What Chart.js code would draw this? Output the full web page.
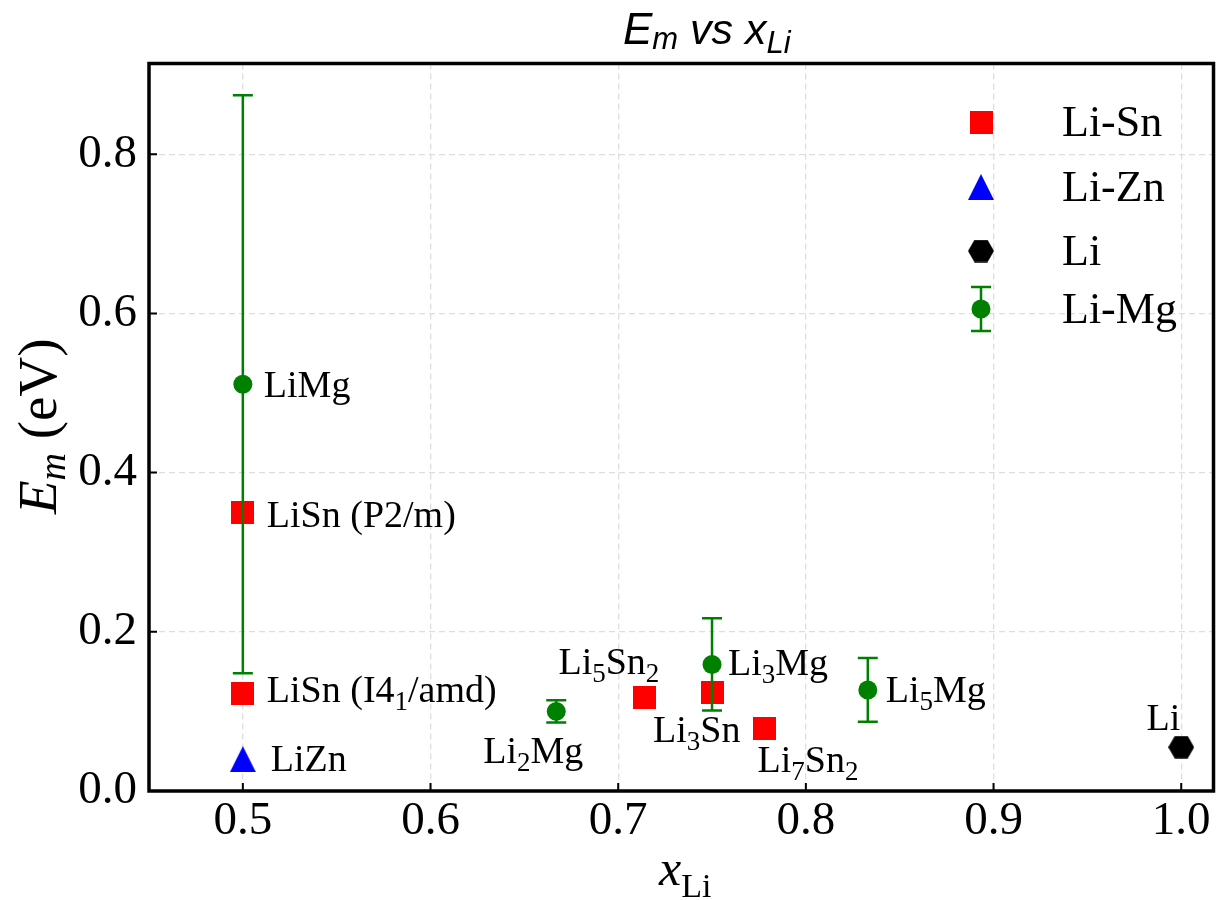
<!DOCTYPE html>
<html>
<head>
<meta charset="utf-8">
<script src="https://cdn.jsdelivr.net/npm/chart.js@4.4.0/dist/chart.umd.min.js"></script>
<style>
  html, body { margin: 0; padding: 0; background: #fff; }
  #wrap { width: 1216px; height: 900px; }
</style>
</head>
<body>
<div id="wrap"><canvas id="emChart" width="1216" height="900"></canvas></div>
<script>
// Migration energy E_m (eV) against Li fraction, per alloy family
const snX = [0.5, 0.5, 0.714, 0.75, 0.778];
const snY = [0.350, 0.122, 0.118, 0.124, 0.079];
const snNames = ["LiSn (P2/m)", "LiSn (I4_{1}/amd)", "Li_{5}Sn_{2}", "Li_{3}Sn", "Li_{7}Sn_{2}"];

const znX = [0.5];
const znY = [0.040];
const znNames = ["LiZn"];

const liX = [1.0];
const liY = [0.055];
const liNames = ["Li"];

const mgX = [0.5, 0.667, 0.75, 0.833];
const mgY = [0.511, 0.100, 0.159, 0.127];
const mgErr = [0.363, 0.014, 0.058, 0.040];
const mgNames = ["LiMg", "Li_{2}Mg", "Li_{3}Mg", "Li_{5}Mg"];

const xTicks = [0.5, 0.6, 0.7, 0.8, 0.9, 1.0];
const yTicks = [0.0, 0.2, 0.4, 0.6, 0.8];

// where each compound name sits relative to its marker: [dx, dy, align]
const labelPlacement = {
  "LiMg": [21, 13, "left"],
  "LiSn (P2/m)": [24, 15, "left"],
  "LiSn (I4_{1}/amd)": [24, 8, "left"],
  "LiZn": [28, 12, "left"],
  "Li_{2}Mg": [27, 52, "right"],
  "Li_{5}Sn_{2}": [-86, -23, "left"],
  "Li_{3}Sn": [-59, 50, "left"],
  "Li_{3}Mg": [16, 11, "left"],
  "Li_{7}Sn_{2}": [-7, 44, "left"],
  "Li_{5}Mg": [18, 12, "left"],
  "Li": [-1, -17, "right"]
};

const SERIF = "'Liberation Serif', 'Times New Roman', serif";
const SANS = "'Liberation Sans', Arial, sans-serif";
const GREEN = "#008000";

// small canvases used as point styles
function markerCanvas(w, h, color, shape) {
  const c = document.createElement("canvas");
  c.width = w; c.height = h;
  const g = c.getContext("2d");
  g.fillStyle = color;
  g.beginPath();
  if (shape === "square") {
    g.rect(0, 0, w, h);
  } else if (shape === "triangle") {
    g.moveTo(w / 2, 0); g.lineTo(w, h); g.lineTo(0, h);
  } else if (shape === "hexagon") {
    const r = w / 2;
    for (let k = 0; k < 6; k++) {
      const a = k * Math.PI / 3;
      const px = w / 2 + r * Math.cos(a), py = h / 2 + r * Math.sin(a);
      if (k === 0) g.moveTo(px, py); else g.lineTo(px, py);
    }
  }
  g.closePath();
  g.fill();
  return c;
}
const squareImg = markerCanvas(23, 23, "#ff0000", "square");
const triangleImg = markerCanvas(26, 26, "#0000ff", "triangle");
const hexImg = markerCanvas(26, 23, "#000000", "hexagon");

const pts = (xs, ys) => xs.map((x, i) => ({ x: x, y: ys[i] }));

// "Li_{5}Sn_{2}" -> segments with subscripts
function parseRich(str, size, subSize, subShift, style) {
  const out = [];
  const re = /_\{([^}]*)\}/g;
  let last = 0, m;
  while ((m = re.exec(str))) {
    if (m.index > last) out.push({ t: str.slice(last, m.index), font: `${style} ${size}px ${SERIF}`, dy: 0 });
    out.push({ t: m[1], font: `${style} ${subSize}px ${SERIF}`, dy: subShift });
    last = re.lastIndex;
  }
  if (last < str.length) out.push({ t: str.slice(last), font: `${style} ${size}px ${SERIF}`, dy: 0 });
  return out;
}

function drawSegs(ctx, segs, x, y, align) {
  let total = 0;
  segs.forEach(s => { ctx.font = s.font; s.w = ctx.measureText(s.t).width; total += s.w; });
  let cx = align === "right" ? x - total : align === "center" ? x - total / 2 : x;
  ctx.textAlign = "left";
  ctx.textBaseline = "alphabetic";
  segs.forEach(s => {
    ctx.font = s.font;
    ctx.fillText(s.t, cx, y + s.dy);
    cx += s.w;
  });
}

// green error bars, drawn just before the Li-Mg markers
const errorBarPlugin = {
  id: "errorBars",
  beforeDatasetDraw(chart, args) {
    const ds = chart.data.datasets[args.index];
    if (!ds.errors) return;
    const { ctx, scales: { x, y } } = chart;
    ctx.save();
    ctx.strokeStyle = GREEN;
    ctx.lineWidth = 2.5;
    ds.data.forEach((p, i) => {
      const px = x.getPixelForValue(p.x);
      const top = y.getPixelForValue(p.y + ds.errors[i]);
      const bot = y.getPixelForValue(p.y - ds.errors[i]);
      ctx.beginPath();
      ctx.moveTo(px, top); ctx.lineTo(px, bot);
      ctx.moveTo(px - 10, top); ctx.lineTo(px + 10, top);
      ctx.moveTo(px - 10, bot); ctx.lineTo(px + 10, bot);
      ctx.stroke();
    });
    ctx.restore();
  }
};

// frame, inward ticks, compound names, titles and legend
const decorPlugin = {
  id: "decor",
  afterDraw(chart) {
    const { ctx, chartArea: a, scales: { x, y } } = chart;
    ctx.save();

    // compound names
    ctx.fillStyle = "#000";
    chart.data.datasets.forEach(ds => {
      ds.data.forEach((p, i) => {
        const name = ds.names[i];
        const pl = labelPlacement[name] || [15, 10, "left"];
        const segs = parseRich(name, 38, 27, 8, "normal");
        drawSegs(ctx, segs, x.getPixelForValue(p.x) + pl[0], y.getPixelForValue(p.y) + pl[1], pl[2]);
      });
    });

    // ticks pointing into the plot
    ctx.strokeStyle = "#000";
    ctx.lineWidth = 2;
    ctx.beginPath();
    xTicks.forEach(v => {
      const px = x.getPixelForValue(v);
      ctx.moveTo(px, a.bottom); ctx.lineTo(px, a.bottom - 8);
    });
    yTicks.forEach(v => {
      const py = y.getPixelForValue(v);
      ctx.moveTo(a.left, py); ctx.lineTo(a.left + 8, py);
    });
    ctx.stroke();

    // frame
    ctx.lineWidth = 3.5;
    ctx.strokeRect(a.left, a.top, a.right - a.left, a.bottom - a.top);

    // title
    drawSegs(ctx, [
      { t: "E", font: `italic 44px ${SANS}`, dy: 0 },
      { t: "m", font: `italic 31px ${SANS}`, dy: 5 },
      { t: " vs x", font: `italic 43px ${SANS}`, dy: 0 },
      { t: "Li", font: `italic 31px ${SANS}`, dy: 9 }
    ], 623, 44, "left");

    // x axis title
    drawSegs(ctx, [
      { t: "x", font: `italic 50px ${SERIF}`, dy: 0 },
      { t: "Li", font: `34px ${SERIF}`, dy: 12 }
    ], (a.left + a.right) / 2 + 4, 885, "center");

    // y axis title
    ctx.save();
    ctx.translate(56, 514);
    ctx.rotate(-Math.PI / 2);
    drawSegs(ctx, [
      { t: "E", font: `italic 55px ${SERIF}`, dy: 0 },
      { t: "m", font: `italic 38px ${SERIF}`, dy: 9 },
      { t: " (eV)", font: `55px ${SERIF}`, dy: 0 }
    ], 0, 0, "left");
    ctx.restore();

    // legend
    const lx = 981, tx = 1062;
    const rows = [122, 187, 251, 309];
    ctx.drawImage(squareImg, lx - 11.5, rows[0] - 11.5);
    ctx.drawImage(triangleImg, lx - 13, rows[1] - 13);
    ctx.drawImage(hexImg, lx - 13, rows[2] - 11.5);
    ctx.strokeStyle = GREEN;
    ctx.lineWidth = 2.5;
    ctx.beginPath();
    ctx.moveTo(lx, rows[3] - 22); ctx.lineTo(lx, rows[3] + 22);
    ctx.moveTo(lx - 10, rows[3] - 22); ctx.lineTo(lx + 10, rows[3] - 22);
    ctx.moveTo(lx - 10, rows[3] + 22); ctx.lineTo(lx + 10, rows[3] + 22);
    ctx.stroke();
    ctx.fillStyle = GREEN;
    ctx.beginPath();
    ctx.arc(lx, rows[3], 9.5, 0, Math.PI * 2);
    ctx.fill();
    ctx.fillStyle = "#000";
    chart.data.datasets.forEach((ds, i) => {
      drawSegs(ctx, [{ t: ds.label, font: `44px ${SERIF}`, dy: 0 }], tx, rows[i] + 14, "left");
    });

    ctx.restore();
  }
};

function initChart() {
  const ctx = document.getElementById("emChart").getContext("2d");
  new Chart(ctx, {
    type: "scatter",
    data: {
      datasets: [
        { label: "Li-Sn", data: pts(snX, snY), names: snNames, pointStyle: squareImg, order: 1 },
        { label: "Li-Zn", data: pts(znX, znY), names: znNames, pointStyle: triangleImg, order: 1 },
        { label: "Li", data: pts(liX, liY), names: liNames, pointStyle: hexImg, order: 1 },
        {
          label: "Li-Mg", data: pts(mgX, mgY), names: mgNames, errors: mgErr,
          pointStyle: "circle", pointRadius: 9.5, pointBorderWidth: 0,
          pointBackgroundColor: GREEN, backgroundColor: GREEN, order: 0
        }
      ]
    },
    options: {
      responsive: false,
      animation: false,
      devicePixelRatio: 1,
      layout: { autoPadding: false, padding: { top: 63.5, right: 2.5, left: 0, bottom: 0 } },
      plugins: { legend: { display: false }, tooltip: { enabled: false }, title: { display: false } },
      scales: {
        x: {
          type: "linear", min: 0.45, max: 1.0172,
          afterBuildTicks: s => { s.ticks = xTicks.map(v => ({ value: v })); },
          afterFit: s => { s.height = 109; s.paddingLeft = 0; s.paddingRight = 0; },
          ticks: { callback: v => v.toFixed(1), color: "#000", padding: 2, font: { family: SERIF, size: 47 } },
          grid: { color: "#dedede", lineWidth: 1.3, drawTicks: false },
          border: { display: false, dash: [6, 4] }
        },
        y: {
          type: "linear", min: 0, max: 0.914,
          afterBuildTicks: s => { s.ticks = yTicks.map(v => ({ value: v })); },
          afterFit: s => { s.width = 149; s.paddingTop = 0; s.paddingBottom = 0; },
          ticks: { callback: v => v.toFixed(1), color: "#000", padding: 12, font: { family: SERIF, size: 47 } },
          grid: { color: "#dedede", lineWidth: 1.3, drawTicks: false },
          border: { display: false, dash: [6, 4] }
        }
      }
    },
    plugins: [errorBarPlugin, decorPlugin]
  });
}

document.addEventListener("DOMContentLoaded", initChart);
</script>
</body>
</html>
